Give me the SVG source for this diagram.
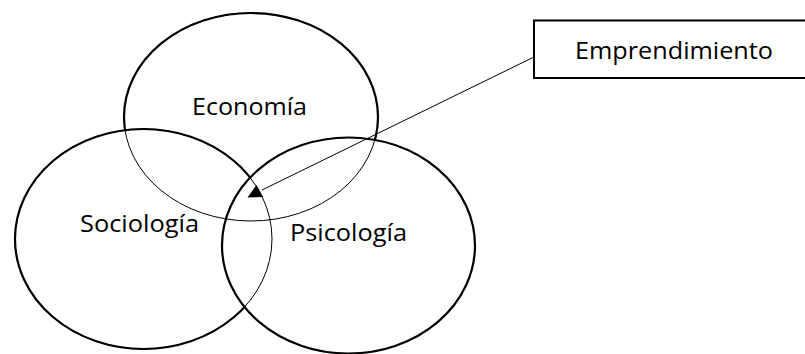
<svg xmlns="http://www.w3.org/2000/svg" width="805" height="354" viewBox="0 0 805 354">
<style>
.thick{fill:#fff;stroke:#000;stroke-width:2.2}
.thin{fill:none;stroke:#000;stroke-width:1}
.lbl{font-family:"Open Sans","Noto Sans","Liberation Sans",sans-serif;font-size:24px;fill:#000;text-anchor:middle}
</style>
<rect width="805" height="354" fill="#fff"/>
<g id="economia">
<ellipse class="thick" cx="251" cy="117" rx="127" ry="104"/>
</g>
<g id="sociologia">
<ellipse class="thick" cx="143.5" cy="239" rx="128.5" ry="110"/>
</g>
<g id="psicologia">
<ellipse class="thick" cx="348.5" cy="245.5" rx="126.5" ry="108"/>
</g>
<g id="overlaps">
<ellipse class="thin" cx="251" cy="117" rx="127" ry="104"/>
<ellipse class="thin" cx="143.5" cy="239" rx="128.5" ry="110"/>
</g>
<g id="labels">
<text class="lbl" x="249.5" y="115" textLength="115" lengthAdjust="spacingAndGlyphs">Economía</text>
<text class="lbl" x="139.5" y="232" textLength="119" lengthAdjust="spacingAndGlyphs">Sociología</text>
<text class="lbl" x="348.5" y="241" textLength="117" lengthAdjust="spacingAndGlyphs">Psicología</text>
</g>
<g id="emprendimiento">
<rect x="534" y="20.5" width="280" height="57.5" fill="#fff" stroke="#000" stroke-width="2"/>
<text class="lbl" x="674" y="59" textLength="198" lengthAdjust="spacingAndGlyphs">Emprendimiento</text>
</g>
<g id="connectors">
<line x1="534" y1="57" x2="262" y2="190" stroke="#000" stroke-width="1"/>
<polygon points="256.5,185 247.5,197.5 263,197" fill="#000"/>
</g>
</svg>
